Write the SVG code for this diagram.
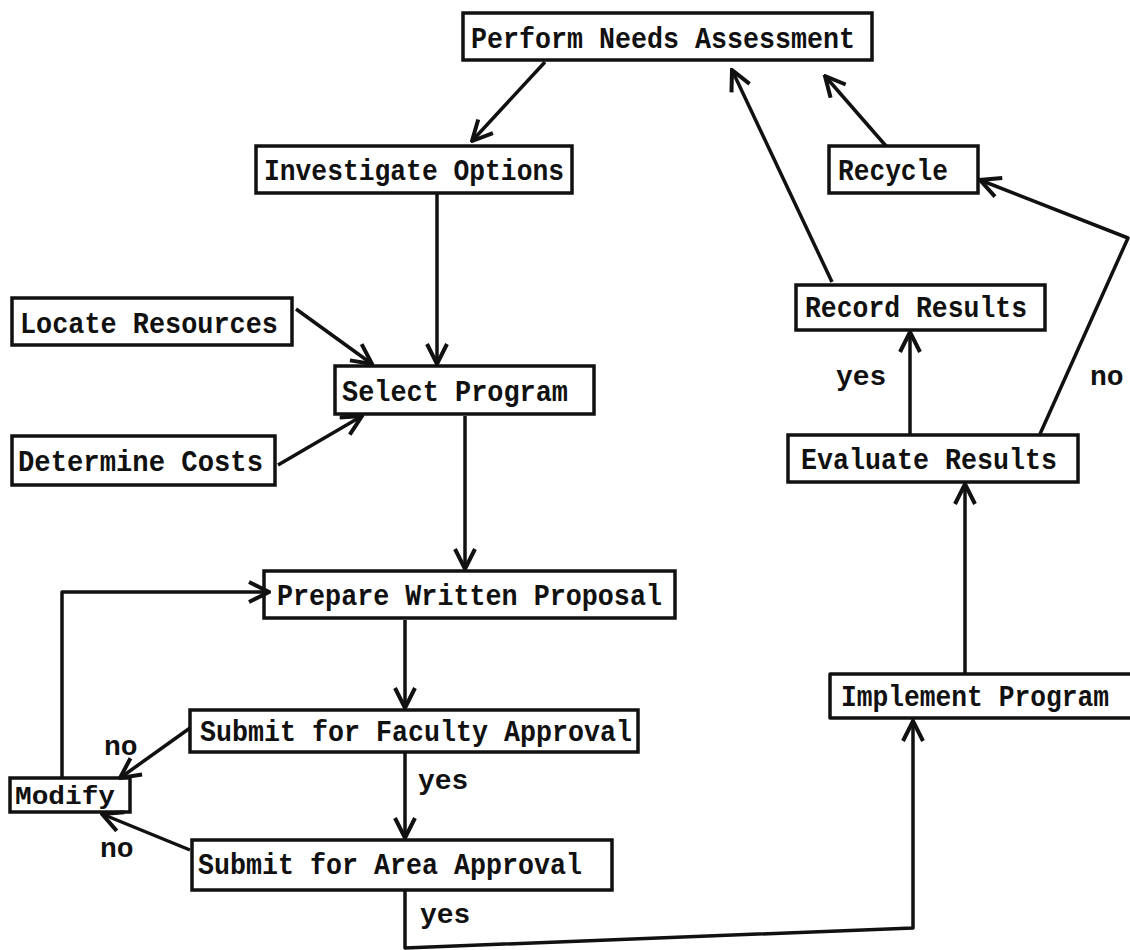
<svg xmlns="http://www.w3.org/2000/svg" width="1130" height="950" viewBox="0 0 1130 950">
<style>
.box{fill:none;stroke:#111;stroke-width:3.5}
.t{font-family:"Liberation Mono","DejaVu Sans Mono",monospace;font-weight:bold;font-size:29px;fill:#111}
.lbl{font-family:"Liberation Mono","DejaVu Sans Mono",monospace;font-weight:bold;font-size:28px;fill:#111}
.c{fill:none;stroke:#111;stroke-width:3.5;stroke-linejoin:round;marker-end:url(#ah)}
.cn{fill:none;stroke:#111;stroke-width:3.5;stroke-linejoin:round}
</style>
<defs>
<marker id="ah" viewBox="0 0 12 12" refX="11" refY="6" markerWidth="24" markerHeight="24" markerUnits="userSpaceOnUse" orient="auto">
<path d="M1,1 L11,6 L1,11" fill="none" stroke="#111" stroke-width="2"/>
</marker>
</defs>
<rect width="1130" height="950" fill="#fff"/>
<g id="connectors">
<path class="c" d="M545,62 L472,141"/>
<path class="c" d="M437,194 L437,364"/>
<path class="c" d="M296,309 L372,364"/>
<path class="c" d="M278,465 L362,416"/>
<path class="c" d="M465,416 L465,569"/>
<path class="c" d="M405,620 L405,708"/>
<path class="c" d="M405,753 L405,838"/>
<path class="c" d="M190,728 L120,778"/>
<path class="c" d="M190,850 L102,814"/>
<path class="c" d="M62,777 L62,592 L269,592"/>
<path class="c" d="M405,891 L405,948 L913,928 L913,721"/>
<path class="c" d="M965,673 L965,484"/>
<path class="c" d="M910,434 L910,332"/>
<path class="c" d="M1040,434 L1128,238 L980,180"/>
<path class="c" d="M832,282 L732,70"/>
<path class="c" d="M886,146 L825,76"/>
</g>
<g id="n-perform"><rect class="box" x="463" y="13" width="409" height="47"/><text class="t" x="471" y="48" textLength="384" lengthAdjust="spacingAndGlyphs">Perform Needs Assessment</text></g>
<g id="n-investigate"><rect class="box" x="256" y="146" width="316" height="47"/><text class="t" x="264" y="180" textLength="300" lengthAdjust="spacingAndGlyphs">Investigate Options</text></g>
<g id="n-recycle"><rect class="box" x="829" y="146" width="149" height="47"/><text class="t" x="838" y="180" textLength="110" lengthAdjust="spacingAndGlyphs">Recycle</text></g>
<g id="n-locate"><rect class="box" x="12" y="298" width="280" height="47"/><text class="t" x="20" y="333" textLength="258" lengthAdjust="spacingAndGlyphs">Locate Resources</text></g>
<g id="n-select"><rect class="box" x="335" y="366" width="259" height="48"/><text class="t" x="342" y="401" textLength="226" lengthAdjust="spacingAndGlyphs">Select Program</text></g>
<g id="n-record"><rect class="box" x="796" y="285" width="249" height="45"/><text class="t" x="805" y="317" textLength="222" lengthAdjust="spacingAndGlyphs">Record Results</text></g>
<g id="n-determine"><rect class="box" x="12" y="436" width="263" height="49"/><text class="t" x="18" y="471" textLength="245" lengthAdjust="spacingAndGlyphs">Determine Costs</text></g>
<g id="n-evaluate"><rect class="box" x="788" y="435" width="290" height="47"/><text class="t" x="801" y="469" textLength="256" lengthAdjust="spacingAndGlyphs">Evaluate Results</text></g>
<g id="n-prepare"><rect class="box" x="264" y="571" width="411" height="47"/><text class="t" x="277" y="605" textLength="385" lengthAdjust="spacingAndGlyphs">Prepare Written Proposal</text></g>
<g id="n-implement"><path class="cn" d="M1130,674 L830,674 L830,718 L1130,718"/><text class="t" x="841" y="706" textLength="268" lengthAdjust="spacingAndGlyphs">Implement Program</text></g>
<g id="n-faculty"><rect class="box" x="190" y="710" width="448" height="42"/><text class="t" x="200" y="741" textLength="432" lengthAdjust="spacingAndGlyphs">Submit for Faculty Approval</text></g>
<g id="n-modify"><rect class="box" x="10" y="778" width="120" height="34"/><text class="t" x="15" y="804" textLength="100" lengthAdjust="spacingAndGlyphs" style="font-size:26px">Modify</text></g>
<g id="n-area"><rect class="box" x="192" y="840" width="420" height="50"/><text class="t" x="198" y="874" textLength="384" lengthAdjust="spacingAndGlyphs">Submit for Area Approval</text></g>
<g id="labels">
<text class="lbl" x="104" y="755">no</text>
<text class="lbl" x="418" y="789">yes</text>
<text class="lbl" x="100" y="857">no</text>
<text class="lbl" x="420" y="923">yes</text>
<text class="lbl" x="836" y="385">yes</text>
<text class="lbl" x="1090" y="385">no</text>
</g>
</svg>
